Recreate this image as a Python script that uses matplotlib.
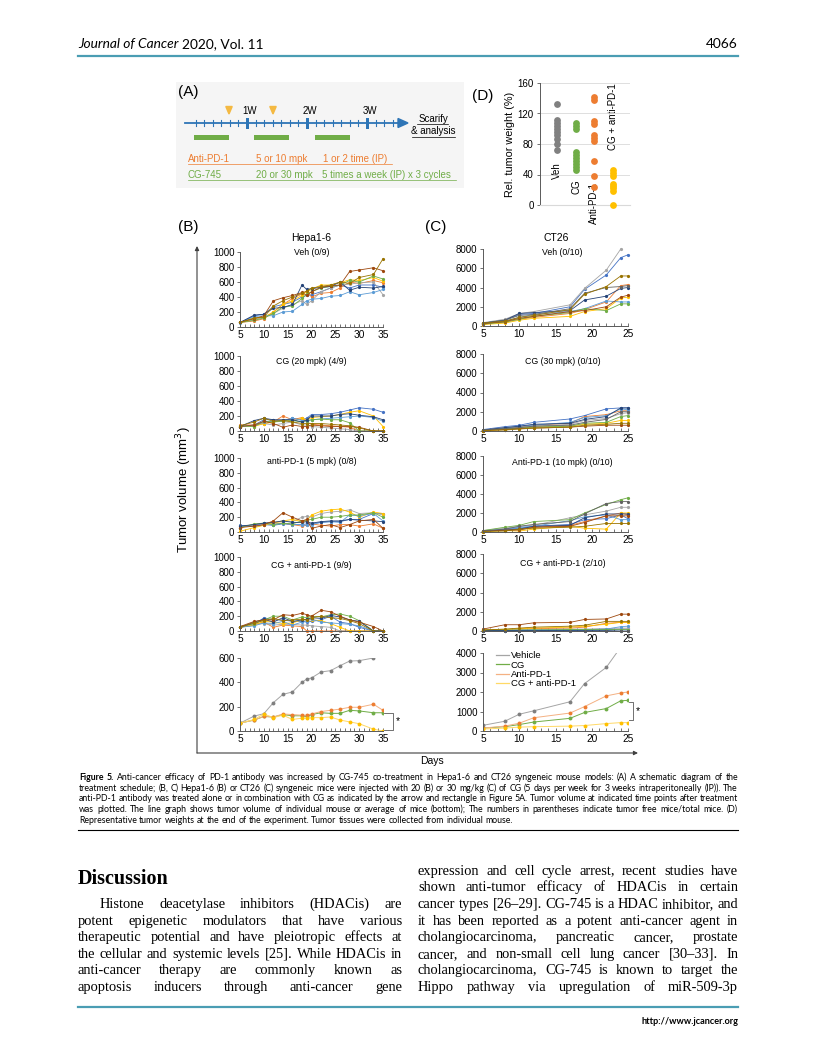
import matplotlib
matplotlib.use('Agg')
import matplotlib.pyplot as plt
from matplotlib.patches import Rectangle, Polygon
import numpy as np

plt.rcParams['font.family'] = ['Liberation Sans', 'DejaVu Sans']

W, H = 816, 1056

# ---------------- data ----------------
days_B = [5, 8, 10, 12, 14, 16, 18, 19, 20, 22, 24, 26, 28, 30, 33, 35]
days_C = [5, 8, 10, 12, 17, 19, 22, 24, 25]

hepa_veh = [
    [60, 150, 170, 270, 300, 330, 400, 420, 430, 470, 520, 560, 520, 560, 560, 530],
    [60, 80, 110, 200, 300, 380, 440, 480, 400, 450, 460, 520, 600, 580, 620, 590],
    [60, 100, 130, 180, 250, 300, 350, 300, 350, 470, 520, 560, 570, 590, 600, 430],
    [60, 120, 130, 200, 300, 350, 420, 470, 500, 560, 560, 590, 630, 620, 660, 610],
    [55, 140, 150, 150, 200, 210, 300, 350, 370, 380, 410, 420, 470, 430, 460, 500],
    [60, 90, 120, 180, 270, 280, 380, 440, 470, 520, 540, 560, 620, 600, 680, 640],
    [60, 160, 170, 250, 260, 300, 560, 500, 510, 530, 540, 600, 490, 530, 520, 540],
    [65, 110, 150, 350, 390, 420, 460, 420, 470, 530, 550, 560, 740, 760, 790, 750],
    [60, 120, 130, 280, 350, 400, 450, 480, 520, 540, 560, 600, 580, 660, 700, 910],
]
hepa_cg = [
    [60, 80, 150, 150, 130, 170, 150, 170, 220, 220, 230, 250, 280, 310, 290, 250],
    [80, 80, 100, 120, 200, 150, 180, 120, 90, 80, 70, 60, 50, 0, 0, 0],
    [60, 80, 100, 80, 100, 120, 80, 80, 60, 50, 40, 30, 20, 0, 0, 0],
    [60, 60, 100, 120, 150, 130, 170, 150, 180, 190, 200, 220, 250, 270, 200, 60],
    [60, 70, 120, 130, 140, 170, 140, 130, 150, 160, 170, 180, 190, 200, 180, 130],
    [70, 60, 130, 120, 130, 140, 120, 140, 150, 160, 150, 150, 110, 0, 0, 0],
    [60, 140, 170, 150, 150, 150, 120, 150, 200, 200, 200, 220, 230, 210, 190, 150],
    [60, 80, 130, 100, 50, 80, 60, 60, 80, 70, 60, 60, 60, 50, 0, 0],
    [70, 120, 170, 130, 140, 120, 100, 100, 100, 100, 90, 80, 70, 40, 0, 0],
]
hepa_pd1 = [
    [90, 70, 100, 90, 110, 100, 100, 110, 110, 130, 140, 140, 170, 170, 250, 250],
    [60, 100, 110, 120, 120, 100, 80, 90, 110, 90, 80, 100, 100, 80, 110, 50],
    [60, 100, 120, 130, 150, 140, 200, 210, 200, 250, 270, 280, 300, 250, 260, 230],
    [10, 60, 90, 120, 150, 170, 140, 150, 230, 280, 300, 310, 270, 200, 270, 250],
    [80, 80, 120, 100, 120, 100, 100, 90, 100, 130, 140, 130, 230, 220, 250, 150],
    [60, 110, 120, 100, 120, 110, 150, 160, 170, 200, 200, 210, 230, 230, 260, 200],
    [80, 100, 120, 130, 150, 130, 130, 140, 120, 140, 150, 150, 170, 160, 150, 140],
    [60, 80, 100, 150, 260, 200, 150, 170, 50, 80, 100, 60, 100, 150, 170, 50],
]
hepa_combo = [
    [50, 80, 180, 150, 150, 130, 130, 120, 130, 150, 200, 120, 100, 50, 0, 0],
    [60, 90, 120, 50, 80, 70, 60, 0, 0, 0, 0, 0, 0, 0, 0, 0],
    [60, 90, 100, 80, 90, 90, 80, 80, 70, 60, 50, 0, 0, 0, 0, 0],
    [50, 80, 130, 120, 100, 110, 150, 150, 150, 140, 100, 50, 0, 0, 0, 0],
    [50, 70, 110, 100, 130, 80, 120, 140, 160, 120, 110, 100, 90, 70, 0, 0],
    [60, 100, 150, 200, 200, 150, 190, 180, 200, 190, 220, 230, 200, 140, 0, 0],
    [50, 120, 160, 120, 180, 130, 150, 160, 180, 170, 210, 190, 150, 130, 0, 0],
    [60, 130, 150, 150, 220, 210, 240, 220, 200, 280, 260, 200, 150, 120, 60, 0],
    [50, 110, 140, 170, 140, 150, 160, 150, 180, 200, 180, 170, 140, 100, 0, 0],
]
hepa_avg_veh = [65, 123, 142, 233, 301, 321, 400, 427, 436, 485, 496, 537, 575, 578, 600, 640]
hepa_avg_cg = [65, 90, 120, 115, 135, 125, 125, 120, 135, 150, 145, 145, 170, 165, 150, 150]
hepa_avg_pd1 = [65, 90, 120, 115, 140, 135, 130, 130, 140, 160, 170, 180, 195, 195, 220, 170]
hepa_avg_combo = [65, 95, 140, 110, 130, 95, 105, 105, 110, 110, 115, 90, 75, 60, 15, 0]

ct_veh = [
    [300, 600, 1200, 1300, 2000, 3800, 5300, 7100, 7400],
    [200, 400, 700, 900, 1300, 1700, 2500, 4200, 4300],
    [350, 700, 1300, 1500, 2200, 3900, 5800, 8000, np.nan],
    [150, 300, 600, 800, 1000, 1500, 1800, 2900, 3000],
    [250, 500, 900, 1200, 1500, 1800, 2600, 2500, 2500],
    [200, 400, 700, 1000, 1400, 1800, 1600, 2300, 2300],
    [300, 600, 1300, 1400, 1600, 2700, 3100, 3900, 4000],
    [250, 450, 800, 1000, 1500, 1600, 2000, 3000, 3200],
    [300, 600, 1100, 1200, 1800, 3400, 4000, 4100, 4200],
    [300, 500, 900, 1100, 1700, 3300, 4100, 5200, 5200],
]
ct_cg = [
    [150, 450, 600, 900, 1250, 1600, 2300, 2400, 2400],
    [100, 300, 400, 600, 800, 1500, 1700, 2100, 2100],
    [100, 250, 400, 500, 700, 1100, 1300, 1800, 1900],
    [50, 150, 300, 400, 500, 700, 800, 1100, 1100],
    [100, 300, 500, 600, 900, 1400, 1600, 2300, 2200],
    [100, 200, 300, 400, 500, 800, 900, 1500, 1600],
    [100, 350, 500, 700, 800, 1200, 1500, 2400, 2400],
    [50, 150, 250, 300, 400, 500, 600, 600, 600],
    [100, 250, 350, 500, 600, 900, 1200, 2000, 2000],
    [50, 100, 200, 300, 400, 600, 700, 800, 800],
]
ct_pd1 = [
    [100, 300, 400, 600, 800, 1300, 1400, 1800, 1400],
    [100, 200, 300, 500, 700, 1100, 1700, 2000, 1800],
    [150, 400, 600, 700, 1500, 1800, 2200, 2600, 2600],
    [50, 150, 100, 300, 600, 400, 300, 2000, 2000],
    [100, 300, 500, 600, 1200, 1600, 1800, 1300, 1300],
    [150, 500, 700, 1100, 1300, 2000, 2900, 3400, 3600],
    [100, 200, 300, 600, 700, 1500, 1900, 1900, 1900],
    [100, 200, 200, 500, 600, 1000, 1700, 1700, 1700],
    [100, 300, 600, 800, 1100, 1900, 3000, 3200, 3200],
    [50, 100, 300, 400, 500, 600, 900, 900, 900],
]
ct_combo = [
    [50, 50, 0, 50, 100, 100, 150, 200, 200],
    [100, 150, 200, 250, 300, 400, 800, 900, 900],
    [100, 100, 150, 150, 200, 200, 250, 300, 300],
    [100, 150, 250, 300, 400, 500, 700, 900, 900],
    [50, 50, 50, 100, 100, 150, 200, 450, 500],
    [100, 100, 100, 100, 150, 150, 150, 150, 150],
    [50, 50, 50, 50, 50, 50, 50, 0, 0],
    [200, 650, 650, 850, 900, 1200, 1250, 1750, 1750],
    [50, 50, 50, 50, 50, 50, 50, 50, 50],
    [100, 200, 300, 400, 500, 600, 1000, 1000, 1000],
]
ct_avg_veh = [290, 500, 860, 1035, 1500, 2430, 3260, 4300, 4600]
ct_avg_cg = [150, 220, 330, 460, 650, 950, 1150, 1550, 1570]
ct_avg_pd1 = [150, 250, 400, 680, 920, 1250, 1800, 1950, 2000]
ct_avg_combo = [100, 150, 200, 220, 250, 280, 380, 430, 430]

avg_labels = ['Vehicle', 'CG', 'Anti-PD-1', 'CG + anti-PD-1']

d_groups = ['Veh', 'CG', 'Anti-PD-1', 'CG + anti-PD-1']
d_veh = [132, 112, 108, 104, 100, 96, 92, 86, 80, 72]
d_cg = [107, 103, 100, 70, 66, 62, 58, 54, 50, 46]
d_pd1 = [142, 138, 110, 106, 92, 88, 84, 58, 38, 24]
d_combo = [46, 42, 38, 28, 25, 22, 19, 0]

excel = ['#4472C4', '#ED7D31', '#A5A5A5', '#FFC000', '#5B9BD5', '#70AD47',
         '#264478', '#9E480E', '#636363', '#997300']
hepa_cols = excel[:8] + ['#997300']
grp_cols = ['#808080', '#70AD47', '#ED7D31', '#FFC000']
avg_line_cols = ['#A5A5A5', '#70AD47', '#F4B183', '#FFD966']
avg_mk_cols = ['#7F7F7F', '#70AD47', '#ED7D31', '#FFC000']

# ---------------- figure ----------------
fig = plt.figure(figsize=(W / 100, H / 100), dpi=100)
ov = fig.add_axes([0, 0, 1, 1])
ov.set_xlim(0, W)
ov.set_ylim(H, 0)
ov.axis('off')


def add_ax(x0, y0, x1, y1):
    a = fig.add_axes([x0 / W, 1 - y1 / H, (x1 - x0) / W, (y1 - y0) / H])
    a.patch.set_alpha(0)
    return a


renderer = fig.canvas.get_renderer()


def tline(s, x0, x1, y, justify=True, bold_first=0, **kw):
    """Place a line of words; y is the visual centre of lowercase text (px)."""
    words = s.split()
    fs = kw.pop('fontsize', 8)
    yb = y + 0.33 * fs * 100 / 72
    objs = []
    for i, w in enumerate(words):
        kk = dict(kw)
        if i < bold_first:
            kk['fontweight'] = 'bold'
        objs.append(ov.text(x0, yb, w, va='baseline', ha='left', fontsize=fs, **kk))
    widths = [o.get_window_extent(renderer).width for o in objs]
    t1 = ov.text(0, 0, 'a a', fontsize=fs, **kw)
    t2 = ov.text(0, 0, 'aa', fontsize=fs, **kw)
    sp = t1.get_window_extent(renderer).width - t2.get_window_extent(renderer).width
    t1.remove(); t2.remove()
    n = len(words)
    if justify and n > 1:
        gap = max((x1 - x0 - sum(widths)) / (n - 1), 0.5 * sp)
    else:
        gap = sp
    x = x0
    for o, w in zip(objs, widths):
        o.set_x(x)
        x += w + gap


# ---------------- header / footer ----------------
teal = '#4A9DB3'
ov.plot([78, 738], [56, 56], color=teal, lw=1.6)
t = ov.text(78, 44, 'Journal of Cancer', fontsize=9.9, style='italic', family='Lato', va='center')
wj = t.get_window_extent(renderer).width
ov.text(78 + wj + 3, 44, '2020, Vol. 11', fontsize=9.9, family='Lato', va='center')
ov.text(738, 44, '4066', fontsize=9.9, family='Lato', va='center', ha='right')
ov.plot([78, 738], [1007, 1007], color=teal, lw=1.6)
ov.text(738, 1021, 'http://www.jcancer.org', fontsize=6.6, family='Lato', fontweight='bold',
        va='center', ha='right')

# ---------------- panel A ----------------
ov.add_patch(Rectangle((176, 82), 288, 106, color='#f5f5f5', zorder=0, lw=0))
ov.text(178, 92, '(A)', fontsize=11, va='center')
blue = '#2E75B6'
day0, pxd = 187, 60 / 7
ov.plot([day0 - 2, 400], [123, 123], color=blue, lw=1.3, zorder=2)
ov.add_patch(Polygon([[398, 118.5], [398, 127.5], [408, 123]], closed=True, color=blue, zorder=2))
for d in range(1, 25):
    x = day0 + d * pxd
    if d % 7 == 0:
        ov.add_patch(Rectangle((x - 1.5, 117.5), 3, 11, color=blue, zorder=3, lw=0))
    else:
        ov.plot([x, x], [120, 126], color=blue, lw=0.8, zorder=2)
for x in (229, 273):
    ov.add_patch(Polygon([[x - 3.2, 106.5], [x + 3.2, 106.5], [x, 114]], closed=True,
                         color='#F4B942', zorder=3))
for x, lab in ((247, '1W'), (307, '2W'), (367, '3W')):
    ov.text(x + 3, 110.5, lab, fontsize=7, ha='center', va='center')
for x0 in (194, 254, 315):
    ov.add_patch(Rectangle((x0, 135), 35, 4.5, color='#70AD47', lw=0, zorder=3))
ov.text(433, 119, 'Scarify', fontsize=7, ha='center', va='center')
ov.plot([417, 448], [124, 124], color='k', lw=0.5)
ov.text(433, 131.5, '& analysis', fontsize=7, ha='center', va='center')
ov.plot([412, 455], [136.5, 136.5], color='k', lw=0.5)
orng = '#ED7D31'
grn = '#70AD47'
ov.text(188, 158.5, 'Anti-PD-1', fontsize=7, color=orng, va='center')
ov.text(256, 158.5, '5 or 10 mpk', fontsize=7, color=orng, va='center')
ov.text(323, 158.5, '1 or 2 time (IP)', fontsize=7, color=orng, va='center')
ov.plot([188, 392], [163.5, 163.5], color=orng, lw=0.5)
ov.text(188, 174.5, 'CG-745', fontsize=7, color=grn, va='center')
ov.text(256, 174.5, '20 or 30 mpk', fontsize=7, color=grn, va='center')
ov.text(322, 174.5, '5 times a week (IP) x 3 cycles', fontsize=7, color=grn, va='center')
ov.plot([188, 456], [179.5, 179.5], color=grn, lw=0.5)

# ---------------- panel D ----------------
ov.text(472, 96, '(D)', fontsize=11, va='center')
axD = add_ax(540, 83, 630, 205)
for i, (vals, c) in enumerate(zip([d_veh, d_cg, d_pd1, d_combo], grp_cols)):
    axD.scatter([i + 1] * len(vals), vals, s=24, color=c, zorder=3, lw=0, clip_on=False)
axD.set_xlim(0.09, 4.91)
axD.set_ylim(0, 160)
axD.set_yticks([0, 40, 80, 120, 160])
axD.set_xticks([])
axD.grid(axis='y', color='#d9d9d9', lw=0.6)
axD.set_axisbelow(True)
for s in ('top', 'right'):
    axD.spines[s].set_visible(False)
axD.spines['bottom'].set_color('#d9d9d9')
axD.spines['left'].set_color('#595959')
axD.spines['left'].set_linewidth(0.7)
axD.tick_params(axis='y', labelsize=7, length=2.5, width=0.6, pad=2, colors='#595959', labelcolor='k')
axD.set_ylabel('Rel. tumor weight (%)', fontsize=7.8, labelpad=2)
ov.text(557, 171, 'Veh', rotation=90, fontsize=7, ha='center', va='center')
ov.text(576, 187, 'CG', rotation=90, fontsize=7, ha='center', va='center')
ov.text(594, 203, 'Anti-PD-1', rotation=90, fontsize=7, ha='center', va='center')
ov.text(613, 117, 'CG + anti-PD-1', rotation=90, fontsize=7, ha='center', va='center')

# ---------------- panels B, C ----------------
ov.text(178, 227, '(B)', fontsize=11, va='center')
ov.text(425, 227, '(C)', fontsize=11, va='center')


def style_ax(a, xlim, ylim, yticks, xticks):
    a.set_xlim(*xlim)
    a.set_ylim(*ylim)
    a.set_yticks(yticks)
    a.set_xticks(xticks)
    a.set_xticks(np.arange(xlim[0], xlim[1] + 1, 1), minor=True)
    for s in ('top', 'right'):
        a.spines[s].set_visible(False)
    a.spines['left'].set_color('#595959')
    a.spines['bottom'].set_color('#595959')
    a.spines['left'].set_linewidth(0.7)
    a.spines['bottom'].set_linewidth(0.7)
    a.tick_params(axis='y', labelsize=7, length=2, width=0.6, pad=2, colors='#595959', labelcolor='k')
    a.tick_params(axis='x', which='both', direction='in', length=2.5, width=0.6, labelsize=7.3,
                  pad=2, colors='#595959', labelcolor='k')


B_rows = [(252, 327), (356, 431), (458, 532), (557, 631)]
C_rows = [(249, 326), (354, 431), (456, 532), (554, 631)]
B_data = [hepa_veh, hepa_cg, hepa_pd1, hepa_combo]
C_data = [ct_veh, ct_cg, ct_pd1, ct_combo]
B_titles = ['Veh (0/9)', 'CG (20 mpk) (4/9)', 'anti-PD-1 (5 mpk) (0/8)', 'CG + anti-PD-1 (9/9)']
C_titles = ['Veh (0/10)', 'CG (30 mpk) (0/10)', 'Anti-PD-1 (10 mpk) (0/10)', 'CG + anti-PD-1 (2/10)']
B_tpos = [0.99, 0.92, 0.95, 0.89]
C_tpos = [0.95, 0.90, 0.92, 0.88]

for (y0, y1), data, title, tp in zip(B_rows, B_data, B_titles, B_tpos):
    a = add_ax(240, y0, 383, y1)
    for i, series in enumerate(data):
        a.plot(days_B, series, '-o', color=hepa_cols[i], lw=0.6, ms=2.3, mew=0, clip_on=False)
    style_ax(a, (5, 35), (0, 1000), range(0, 1001, 200), range(5, 36, 5))
    a.text(0.5, tp, title, transform=a.transAxes, ha='center', va='center', fontsize=6.3)
for (y0, y1), data, title, tp in zip(C_rows, C_data, C_titles, C_tpos):
    a = add_ax(483, y0, 628, y1)
    for i, series in enumerate(data):
        a.plot(days_C, series, '-o', color=excel[i], lw=0.6, ms=2.3, mew=0, clip_on=False)
    style_ax(a, (5, 25), (0, 8000), range(0, 8001, 2000), range(5, 26, 5))
    a.text(0.55, tp, title, transform=a.transAxes, ha='center', va='center', fontsize=6.3)

ov.text(311, 238, 'Hepa1-6', fontsize=7.5, ha='center', va='center')
ov.text(556, 238, 'CT26', fontsize=7.5, ha='center', va='center')

# averages
aB = add_ax(240, 658, 383, 731)
for vals, lc, mc in zip([hepa_avg_veh, hepa_avg_cg, hepa_avg_pd1, hepa_avg_combo], avg_line_cols, avg_mk_cols):
    aB.plot(days_B, vals, '-o', color=lc, mfc=mc, mec=mc, lw=0.7, ms=2.8, mew=0)
style_ax(aB, (5, 35), (0, 600), range(0, 601, 200), range(5, 36, 5))
aB.plot([35.2, 37, 37, 35.2], [150, 150, 5, 5], color='#595959', lw=0.6, clip_on=False)
aB.text(38.2, 80, '*', fontsize=7.5, ha='center', va='center')

aC = add_ax(483, 653, 628, 731)
hs = []
for vals, lc, mc, lab in zip([ct_avg_veh, ct_avg_cg, ct_avg_pd1, ct_avg_combo], avg_line_cols, avg_mk_cols, avg_labels):
    aC.plot(days_C, vals, '-o', color=lc, mfc=mc, mec=mc, lw=0.7, ms=2.8, mew=0)
    hs.append(plt.Line2D([], [], color=lc, lw=0.9))
style_ax(aC, (5, 25), (0, 4000), range(0, 4001, 1000), range(5, 26, 5))
aC.plot([25.2, 25.7, 25.7, 25.2], [1480, 1480, 560, 560], color='#595959', lw=0.6, clip_on=False)
aC.text(26.3, 1030, '*', fontsize=7.5, ha='center', va='center')
aC.legend(hs, avg_labels, loc='upper left', bbox_to_anchor=(0.06, 1.08), frameon=False,
          fontsize=6.8, handlelength=1.3, handletextpad=0.2, labelspacing=0.02, borderpad=0)

# big outer axes and labels
ov.annotate('', xy=(197, 246), xytext=(197, 753),
            arrowprops=dict(arrowstyle='-|>', lw=0.8, color='#404040', mutation_scale=6, shrinkA=0, shrinkB=0))
ov.annotate('', xy=(638, 753), xytext=(197, 753),
            arrowprops=dict(arrowstyle='-|>', lw=0.8, color='#404040', mutation_scale=6, shrinkA=0, shrinkB=0))
ov.text(184, 490, 'Tumor volume (mm$^3$)', rotation=90, fontsize=9.5, ha='center', va='center')
ov.text(432, 761, 'Days', fontsize=7.5, ha='center', va='center')

# ---------------- caption ----------------
cap = [
    'Figure 5. Anti-cancer efficacy of PD-1 antibody was increased by CG-745 co-treatment in Hepa1-6 and CT26 syngeneic mouse models: (A) A schematic diagram of the',
    'treatment schedule; (B, C) Hepa1-6 (B) or CT26 (C) syngeneic mice were injected with 20 (B) or 30 mg/kg (C) of CG (5 days per week for 3 weeks intraperitoneally (IP)). The',
    'anti-PD-1 antibody was treated alone or in combination with CG as indicated by the arrow and rectangle in Figure 5A. Tumor volume at indicated time points after treatment',
    'was plotted. The line graph shows tumor volume of individual mouse or average of mice (bottom); The numbers in parentheses indicate tumor free mice/total mice. (D)',
    'Representative tumor weights at the end of the experiment. Tumor tissues were collected from individual mouse.',
]
cap_y = [777, 788, 798.5, 809, 820]
for i, (s, y) in enumerate(zip(cap, cap_y)):
    tline(s, 79, 738, y, justify=(i < 4), bold_first=2 if i == 0 else 0, fontsize=6.3, family='Lato')
ov.plot([78, 738], [830, 830], color='k', lw=0.8)

# ---------------- discussion ----------------
ov.text(78, 879, 'Discussion', fontsize=14.5, fontweight='bold', family='Liberation Serif', va='center')
left = [
    'Histone deacetylase inhibitors (HDACis) are',
    'potent epigenetic modulators that have various',
    'therapeutic potential and have pleiotropic effects at',
    'the cellular and systemic levels [25]. While HDACis in',
    'anti-cancer therapy are commonly known as',
    'apoptosis inducers through anti-cancer gene',
]
left_y = [903, 920, 936, 953, 969, 986]
for i, (s, y) in enumerate(zip(left, left_y)):
    tline(s, 100 if i == 0 else 78, 402, y, fontsize=10.4, family='Liberation Serif')
right = [
    'expression and cell cycle arrest, recent studies have',
    'shown anti-tumor efficacy of HDACis in certain',
    'cancer types [26\u201329]. CG-745 is a HDAC inhibitor, and',
    'it has been reported as a potent anti-cancer agent in',
    'cholangiocarcinoma, pancreatic cancer, prostate',
    'cancer, and non-small cell lung cancer [30\u201333]. In',
    'cholangiocarcinoma, CG-745 is known to target the',
    'Hippo pathway via upregulation of miR-509-3p',
]
right_y = [870, 886, 903, 920, 936, 953, 969, 986]
for s, y in zip(right, right_y):
    tline(s, 418, 738, y, fontsize=10.4, family='Liberation Serif')

fig.savefig('out.png', dpi=100)
